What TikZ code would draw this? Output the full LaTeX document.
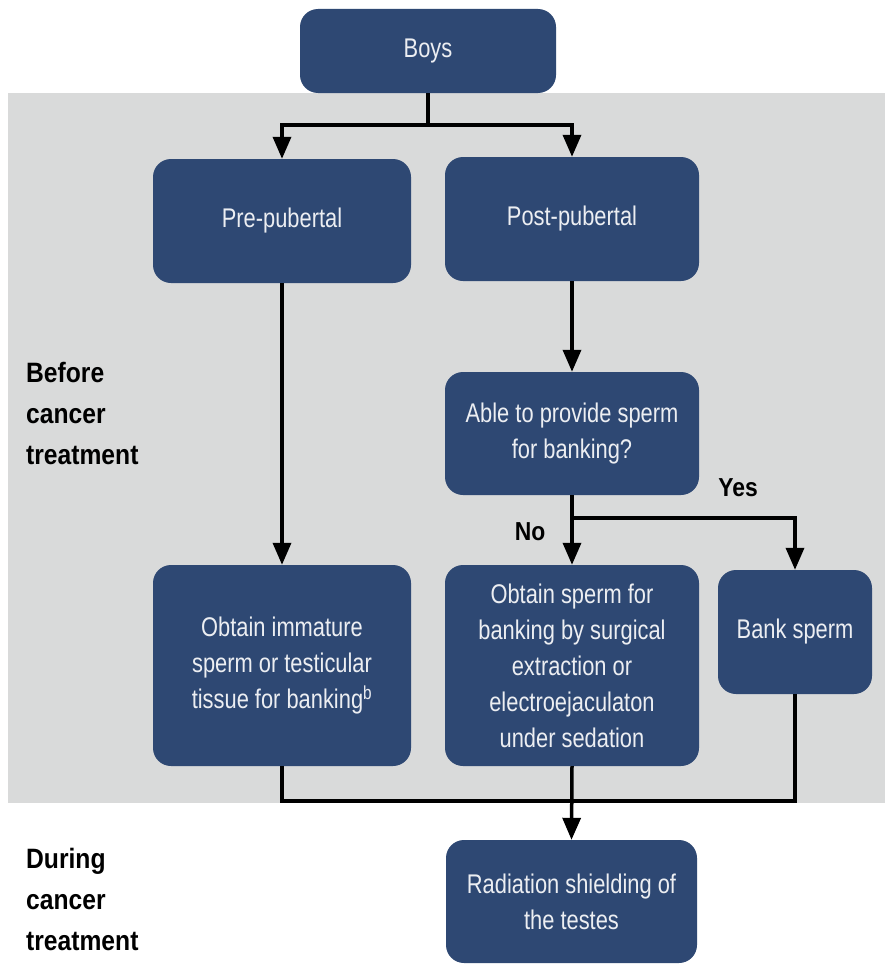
\documentclass[tikz,border=0pt]{standalone}
\usepackage{fontspec}
\setmainfont{Liberation Sans}
\newfontfamily\boxfont[FakeStretch=0.81]{Liberation Sans}
\newfontfamily\labfont[FakeStretch=0.88]{Liberation Sans}
\usetikzlibrary{arrows.meta}
\definecolor{boxblue}{RGB}{46,72,115}
\definecolor{bandgray}{RGB}{217,218,218}
\definecolor{boxtext}{RGB}{236,238,242}
\tikzset{
  fbox/.style={draw=none, fill=boxblue, rounded corners=18pt, align=center,
    text=boxtext, inner sep=0pt, font=\boxfont\fontsize{27}{36}\selectfont},
  conn/.style={line width=3.5pt, line join=miter, black},
  arr/.style={conn, -{Triangle[width=18pt,length=22pt]}},
  sidelab/.style={align=left, anchor=west, inner sep=0pt,
    font=\labfont\bfseries\fontsize{28}{41}\selectfont},
  branchlab/.style={inner sep=0pt, font=\labfont\bfseries\fontsize{26}{30}\selectfont}
}
\begin{document}
\begin{tikzpicture}[x=1pt,y=-1pt]
\useasboundingbox (0,0) rectangle (885,966);
\fill[white] (0,0) rectangle (885,966);
\fill[bandgray] (8,93) rectangle (885,803);

\node[fbox, minimum width=256pt, minimum height=84pt] (boys) at (428,51) {Boys};
\node[fbox, minimum width=258pt, minimum height=124pt] (pre) at (282,221) {Pre-pubertal};
\node[fbox, minimum width=254pt, minimum height=124pt] (post) at (572,219) {Post-pubertal};
\node[fbox, minimum width=254pt, minimum height=123pt] (able) at (572,433.5) {Able to provide sperm\\for banking?};
\node[fbox, minimum width=258pt, minimum height=201pt] (imm) at (282,665.5) {Obtain immature\\sperm or testicular\\tissue for banking\textsuperscript{b}};
\node[fbox, minimum width=254pt, minimum height=201pt] (surg) at (572,665.5) {Obtain sperm for\\banking by surgical\\extraction or\\electroejaculaton\\under sedation};
\node[fbox, minimum width=154pt, minimum height=124pt] (bank) at (795,632) {Bank sperm};
\node[fbox, minimum width=251pt, minimum height=123pt] (rad) at (571.5,901.5) {Radiation shielding of\\the testes};

\node[sidelab] (before) at (26,413) {Before\\cancer\\treatment};
\node[sidelab] (during) at (26,899) {During\\cancer\\treatment};
\node[branchlab] (yes) at (738,488) {Yes};
\node[branchlab] (no) at (530,532) {No};

\coordinate (j1) at (428,125);
\coordinate (j2) at (572,518);
\coordinate (j3) at (572,801);

\draw[conn] (boys.south) -- (j1);
\draw[arr] (j1) -| (pre.north);
\draw[arr] (j1) -| (post.north);
\draw[arr] (pre.south) -- (imm.north);
\draw[arr] (post.south) -- (able.north);
\draw[arr] (able.south) -- (surg.north);
\draw[arr] (j2) -| (bank.north);
\draw[conn] (imm.south) |- (j3);
\draw[conn] (bank.south) |- (j3);
\draw[arr] (surg.south) -- (rad.north);
\end{tikzpicture}
\end{document}
